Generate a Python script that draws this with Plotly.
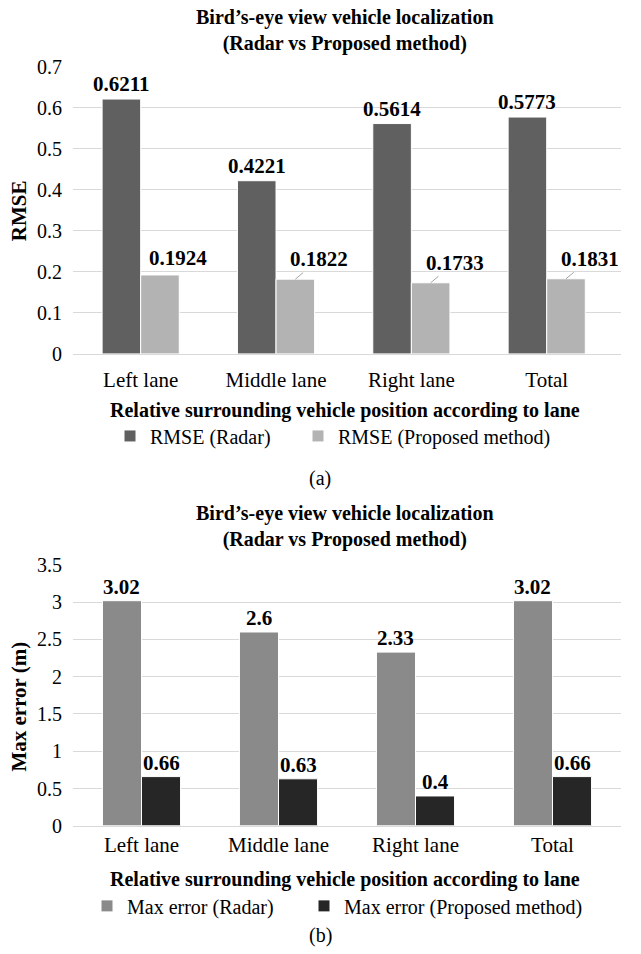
import plotly.graph_objects as go

categories = ["Left lane", "Middle lane", "Right lane", "Total"]
rmse_radar = [0.6211, 0.4221, 0.5614, 0.5773]
rmse_proposed = [0.1924, 0.1822, 0.1733, 0.1831]
max_radar = [3.02, 2.6, 2.33, 3.02]
max_proposed = [0.66, 0.63, 0.4, 0.66]
rmse_labels_radar = ["0.6211", "0.4221", "0.5614", "0.5773"]
rmse_labels_proposed = ["0.1924", "0.1822", "0.1733", "0.1831"]
max_labels_radar = ["3.02", "2.6", "2.33", "3.02"]
max_labels_proposed = ["0.66", "0.63", "0.4", "0.66"]
top_ticks = [0, 0.1, 0.2, 0.3, 0.4, 0.5, 0.6, 0.7]
top_ticktext = ["0", "0.1", "0.2", "0.3", "0.4", "0.5", "0.6", "0.7"]
bot_ticks = [0, 0.5, 1, 1.5, 2, 2.5, 3, 3.5]
bot_ticktext = ["0", "0.5", "1", "1.5", "2", "2.5", "3", "3.5"]

W, H = 641, 954
FONT = "Liberation Serif"
BARGAP = 0.43
OFF = (1 - BARGAP) / 4
GRID = "#d9d9d9"

fig = go.Figure()

fig.add_trace(go.Bar(x=categories, y=rmse_radar, name="RMSE (Radar)",
                     marker=dict(color="#606060", line=dict(color="white", width=1)),
                     xaxis="x", yaxis="y", legend="legend"))
fig.add_trace(go.Bar(x=categories, y=rmse_proposed, name="RMSE (Proposed method)",
                     marker=dict(color="#b3b3b3", line=dict(color="white", width=1)),
                     xaxis="x", yaxis="y", legend="legend2"))
fig.add_trace(go.Bar(x=categories, y=max_radar, name="Max error (Radar)",
                     marker=dict(color="#8a8a8a", line=dict(color="white", width=1)),
                     xaxis="x2", yaxis="y2", legend="legend3"))
fig.add_trace(go.Bar(x=categories, y=max_proposed, name="Max error (Proposed method)",
                     marker=dict(color="#262626", line=dict(color="white", width=1)),
                     xaxis="x2", yaxis="y2", legend="legend4"))

def py(px):
    return 1 - px / H

def pxx(px):
    return px / W

annotations = []
lab_font = dict(family=FONT, size=21, color="black")

for i in range(len(categories)):
    annotations.append(dict(x=i - OFF, y=rmse_radar[i], xref="x", yref="y",
                            text="<b>" + rmse_labels_radar[i] + "</b>", showarrow=False,
                            yanchor="bottom", yshift=1, font=lab_font))
    if i == 0:
        annotations.append(dict(x=i + OFF, y=rmse_proposed[i], xref="x", yref="y",
                                text="<b>" + rmse_labels_proposed[i] + "</b>", showarrow=False,
                                yanchor="bottom", yshift=3, xshift=18, font=lab_font))
    else:
        annotations.append(dict(x=i + OFF, y=rmse_proposed[i], xref="x", yref="y",
                                text="<b>" + rmse_labels_proposed[i] + "</b>", showarrow=True,
                                arrowhead=0, arrowwidth=1, arrowcolor="#a6a6a6",
                                ax=24, ay=-20, font=lab_font))
    annotations.append(dict(x=i - OFF, y=max_radar[i], xref="x2", yref="y2",
                            text="<b>" + max_labels_radar[i] + "</b>", showarrow=False,
                            yanchor="bottom", yshift=0, font=lab_font))
    annotations.append(dict(x=i + OFF, y=max_proposed[i], xref="x2", yref="y2",
                            text="<b>" + max_labels_proposed[i] + "</b>", showarrow=False,
                            yanchor="bottom", yshift=0, font=lab_font))

title_font = dict(family=FONT, size=20, color="black")
cx = pxx(345)
annotations += [
    dict(x=cx, y=py(20), xref="paper", yref="paper", showarrow=False, yanchor="middle",
         text="<b>Bird’s-eye view vehicle localization<br>(Radar vs Proposed method)</b>",
         font=title_font),
    dict(x=cx, y=py(528), xref="paper", yref="paper", showarrow=False, yanchor="middle",
         text="<b>Bird’s-eye view vehicle localization<br>(Radar vs Proposed method)</b>",
         font=title_font),
    dict(x=cx, y=py(409), xref="paper", yref="paper", showarrow=False, yanchor="middle",
         text="<b>Relative surrounding vehicle position according to lane</b>", font=title_font),
    dict(x=cx, y=py(889), xref="paper", yref="paper", showarrow=False, yanchor="middle",
         text="<b>Relative surrounding vehicle position according to lane</b>", font=title_font),
    dict(x=pxx(320), y=py(479), xref="paper", yref="paper", showarrow=False, yanchor="middle",
         text="(a)", font=dict(family=FONT, size=20, color="black")),
    dict(x=pxx(320), y=py(946), xref="paper", yref="paper", showarrow=False, yanchor="middle",
         text="(b)", font=dict(family=FONT, size=20, color="black")),
    dict(x=pxx(19), y=py(205), xref="paper", yref="paper", showarrow=False, textangle=-90,
         xanchor="center", yanchor="middle", text="<b>RMSE</b>", font=dict(family=FONT, size=21, color="black")),
    dict(x=pxx(19), y=py(712), xref="paper", yref="paper", showarrow=False, textangle=-90,
         xanchor="center", yanchor="middle", text="<b>Max error (m)</b>", font=dict(family=FONT, size=21, color="black")),
]

tick_font = dict(family=FONT, size=20, color="black")
cat_font = dict(family=FONT, size=21, color="black")
xdom = [pxx(73), pxx(621)]

common_x = dict(type="category", showgrid=False, showline=True, linecolor=GRID, linewidth=1,
                ticks="", tickfont=cat_font, fixedrange=True)
common_y = dict(showgrid=True, gridcolor=GRID, gridwidth=1, zeroline=False, showline=False,
                ticks="", tickfont=tick_font, ticklabelstandoff=10, fixedrange=True)

leg_font = dict(family=FONT, size=20, color="black")

def leg(xleft, ycenter):
    return dict(orientation="h", x=pxx(xleft), y=py(ycenter), xanchor="left", yanchor="middle",
                font=leg_font, itemwidth=30, bgcolor="rgba(0,0,0,0)")

fig.update_layout(
    width=W, height=H,
    margin=dict(l=0, r=0, t=0, b=0),
    paper_bgcolor="white", plot_bgcolor="white",
    barmode="group", bargap=BARGAP, bargroupgap=0,
    font=dict(family=FONT, color="black"),
    xaxis=dict(domain=xdom, anchor="y", ticklabelstandoff=7, **common_x),
    yaxis=dict(domain=[py(351), py(57)], anchor="x", range=[0, 0.7],
               tickvals=top_ticks, ticktext=top_ticktext, **common_y),
    xaxis2=dict(domain=xdom, anchor="y2", ticklabelstandoff=0, **common_x),
    yaxis2=dict(domain=[py(834), py(567)], anchor="x2", range=[0, 3.5],
                tickvals=bot_ticks, ticktext=bot_ticktext, **common_y),
    legend=leg(110, 435),
    legend2=leg(298, 435),
    legend3=leg(87, 916),
    legend4=leg(304, 916),
    annotations=annotations,
    showlegend=True,
)

fig.write_html("out.html", config={"displayModeBar": False},
               post_script="document.body.style.margin='0px';")
